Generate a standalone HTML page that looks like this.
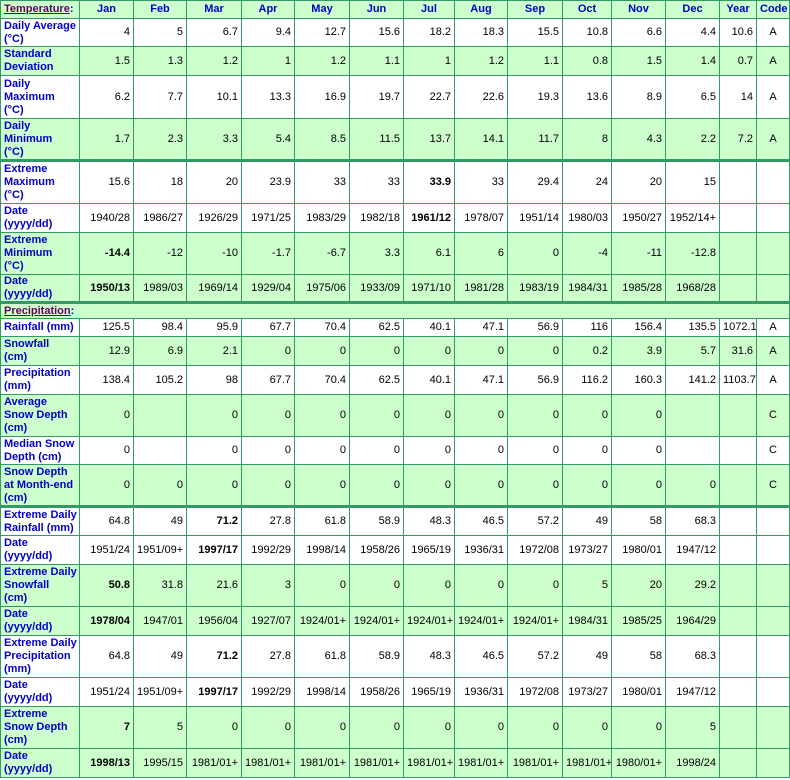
<!DOCTYPE html>
<html><head><meta charset="utf-8"><style>
body{margin:0;background:#fff;}
table{border-collapse:collapse;table-layout:fixed;width:789px;font-family:"Liberation Sans",Arial,sans-serif;font-size:11px;}
td,th{border:1px solid #339966;padding:0 3px 0 3px;text-align:right;color:#000;line-height:13px;overflow:hidden;white-space:nowrap;}
th{color:#0000cc;text-align:center;background:#ccffcc;font-weight:bold;}
td.l{text-align:left;color:#0000cc;font-weight:bold;}
tr.g td{background:#ccffcc;}
tr.t td{border-top:3px solid #339966;}
td.c{text-align:center}
.h{color:#660066;text-decoration:underline;font-weight:bold;}
b{font-weight:bold}
</style></head><body>
<table>
<colgroup><col style="width:79px"><col style="width:54px"><col style="width:53px"><col style="width:55px"><col style="width:53px"><col style="width:55px"><col style="width:54px"><col style="width:51px"><col style="width:53px"><col style="width:55px"><col style="width:49px"><col style="width:54px"><col style="width:54px"><col style="width:37px"><col style="width:33px"></colgroup>
<tr style="height:18px"><th style="text-align:left"><span class="h">Temperature</span>:</th><th>Jan</th><th>Feb</th><th>Mar</th><th>Apr</th><th>May</th><th>Jun</th><th>Jul</th><th>Aug</th><th>Sep</th><th>Oct</th><th>Nov</th><th>Dec</th><th>Year</th><th>Code</th></tr>
<tr style="height:28px"><td class="l">Daily Average<br>(°C)</td><td>4</td><td>5</td><td>6.7</td><td>9.4</td><td>12.7</td><td>15.6</td><td>18.2</td><td>18.3</td><td>15.5</td><td>10.8</td><td>6.6</td><td>4.4</td><td>10.6</td><td class="c">A</td></tr>
<tr class="g" style="height:29px"><td class="l">Standard<br>Deviation</td><td>1.5</td><td>1.3</td><td>1.2</td><td>1</td><td>1.2</td><td>1.1</td><td>1</td><td>1.2</td><td>1.1</td><td>0.8</td><td>1.5</td><td>1.4</td><td>0.7</td><td class="c">A</td></tr>
<tr style="height:43px"><td class="l">Daily<br>Maximum<br>(°C)</td><td>6.2</td><td>7.7</td><td>10.1</td><td>13.3</td><td>16.9</td><td>19.7</td><td>22.7</td><td>22.6</td><td>19.3</td><td>13.6</td><td>8.9</td><td>6.5</td><td>14</td><td class="c">A</td></tr>
<tr class="g" style="height:42px"><td class="l">Daily<br>Minimum<br>(°C)</td><td>1.7</td><td>2.3</td><td>3.3</td><td>5.4</td><td>8.5</td><td>11.5</td><td>13.7</td><td>14.1</td><td>11.7</td><td>8</td><td>4.3</td><td>2.2</td><td>7.2</td><td class="c">A</td></tr>
<tr class="t" style="height:43px"><td class="l">Extreme<br>Maximum<br>(°C)</td><td>15.6</td><td>18</td><td>20</td><td>23.9</td><td>33</td><td>33</td><td><b>33.9</b></td><td>33</td><td>29.4</td><td>24</td><td>20</td><td>15</td><td></td><td></td></tr>
<tr style="height:29px"><td class="l">Date<br>(yyyy/dd)</td><td>1940/28</td><td>1986/27</td><td>1926/29</td><td>1971/25</td><td>1983/29</td><td>1982/18</td><td><b>1961/12</b></td><td>1978/07</td><td>1951/14</td><td>1980/03</td><td>1950/27</td><td>1952/14+</td><td></td><td></td></tr>
<tr class="g" style="height:42px"><td class="l">Extreme<br>Minimum<br>(°C)</td><td><b>-14.4</b></td><td>-12</td><td>-10</td><td>-1.7</td><td>-6.7</td><td>3.3</td><td>6.1</td><td>6</td><td>0</td><td>-4</td><td>-11</td><td>-12.8</td><td></td><td></td></tr>
<tr class="g" style="height:28px"><td class="l">Date<br>(yyyy/dd)</td><td><b>1950/13</b></td><td>1989/03</td><td>1969/14</td><td>1929/04</td><td>1975/06</td><td>1933/09</td><td>1971/10</td><td>1981/28</td><td>1983/19</td><td>1984/31</td><td>1985/28</td><td>1968/28</td><td></td><td></td></tr>
<tr class="g t" style="height:16px"><td colspan="15" style="text-align:left;font-weight:bold;color:#0000cc"><span class="h">Precipitation</span>:</td></tr>
<tr style="height:18px"><td class="l">Rainfall (mm)</td><td>125.5</td><td>98.4</td><td>95.9</td><td>67.7</td><td>70.4</td><td>62.5</td><td>40.1</td><td>47.1</td><td>56.9</td><td>116</td><td>156.4</td><td>135.5</td><td>1072.1</td><td class="c">A</td></tr>
<tr class="g" style="height:29px"><td class="l">Snowfall<br>(cm)</td><td>12.9</td><td>6.9</td><td>2.1</td><td>0</td><td>0</td><td>0</td><td>0</td><td>0</td><td>0</td><td>0.2</td><td>3.9</td><td>5.7</td><td>31.6</td><td class="c">A</td></tr>
<tr style="height:29px"><td class="l">Precipitation<br>(mm)</td><td>138.4</td><td>105.2</td><td>98</td><td>67.7</td><td>70.4</td><td>62.5</td><td>40.1</td><td>47.1</td><td>56.9</td><td>116.2</td><td>160.3</td><td>141.2</td><td>1103.7</td><td class="c">A</td></tr>
<tr class="g" style="height:42px"><td class="l">Average<br>Snow Depth<br>(cm)</td><td>0</td><td></td><td>0</td><td>0</td><td>0</td><td>0</td><td>0</td><td>0</td><td>0</td><td>0</td><td>0</td><td></td><td></td><td class="c">C</td></tr>
<tr style="height:28px"><td class="l">Median Snow<br>Depth (cm)</td><td>0</td><td></td><td>0</td><td>0</td><td>0</td><td>0</td><td>0</td><td>0</td><td>0</td><td>0</td><td>0</td><td></td><td></td><td class="c">C</td></tr>
<tr class="g" style="height:42px"><td class="l">Snow Depth<br>at Month-end<br>(cm)</td><td>0</td><td>0</td><td>0</td><td>0</td><td>0</td><td>0</td><td>0</td><td>0</td><td>0</td><td>0</td><td>0</td><td>0</td><td></td><td class="c">C</td></tr>
<tr class="t" style="height:29px"><td class="l">Extreme Daily<br>Rainfall (mm)</td><td>64.8</td><td>49</td><td><b>71.2</b></td><td>27.8</td><td>61.8</td><td>58.9</td><td>48.3</td><td>46.5</td><td>57.2</td><td>49</td><td>58</td><td>68.3</td><td></td><td></td></tr>
<tr style="height:29px"><td class="l">Date<br>(yyyy/dd)</td><td>1951/24</td><td>1951/09+</td><td><b>1997/17</b></td><td>1992/29</td><td>1998/14</td><td>1958/26</td><td>1965/19</td><td>1936/31</td><td>1972/08</td><td>1973/27</td><td>1980/01</td><td>1947/12</td><td></td><td></td></tr>
<tr class="g" style="height:42px"><td class="l">Extreme Daily<br>Snowfall<br>(cm)</td><td><b>50.8</b></td><td>31.8</td><td>21.6</td><td>3</td><td>0</td><td>0</td><td>0</td><td>0</td><td>0</td><td>5</td><td>20</td><td>29.2</td><td></td><td></td></tr>
<tr class="g" style="height:29px"><td class="l">Date<br>(yyyy/dd)</td><td><b>1978/04</b></td><td>1947/01</td><td>1956/04</td><td>1927/07</td><td>1924/01+</td><td>1924/01+</td><td>1924/01+</td><td>1924/01+</td><td>1924/01+</td><td>1984/31</td><td>1985/25</td><td>1964/29</td><td></td><td></td></tr>
<tr style="height:42px"><td class="l">Extreme Daily<br>Precipitation<br>(mm)</td><td>64.8</td><td>49</td><td><b>71.2</b></td><td>27.8</td><td>61.8</td><td>58.9</td><td>48.3</td><td>46.5</td><td>57.2</td><td>49</td><td>58</td><td>68.3</td><td></td><td></td></tr>
<tr style="height:29px"><td class="l">Date<br>(yyyy/dd)</td><td>1951/24</td><td>1951/09+</td><td><b>1997/17</b></td><td>1992/29</td><td>1998/14</td><td>1958/26</td><td>1965/19</td><td>1936/31</td><td>1972/08</td><td>1973/27</td><td>1980/01</td><td>1947/12</td><td></td><td></td></tr>
<tr class="g" style="height:42px"><td class="l">Extreme<br>Snow Depth<br>(cm)</td><td><b>7</b></td><td>5</td><td>0</td><td>0</td><td>0</td><td>0</td><td>0</td><td>0</td><td>0</td><td>0</td><td>0</td><td>5</td><td></td><td></td></tr>
<tr class="g" style="height:29px"><td class="l">Date<br>(yyyy/dd)</td><td><b>1998/13</b></td><td>1995/15</td><td>1981/01+</td><td>1981/01+</td><td>1981/01+</td><td>1981/01+</td><td>1981/01+</td><td>1981/01+</td><td>1981/01+</td><td>1981/01+</td><td>1980/01+</td><td>1998/24</td><td></td><td></td></tr>
</table>
</body></html>
